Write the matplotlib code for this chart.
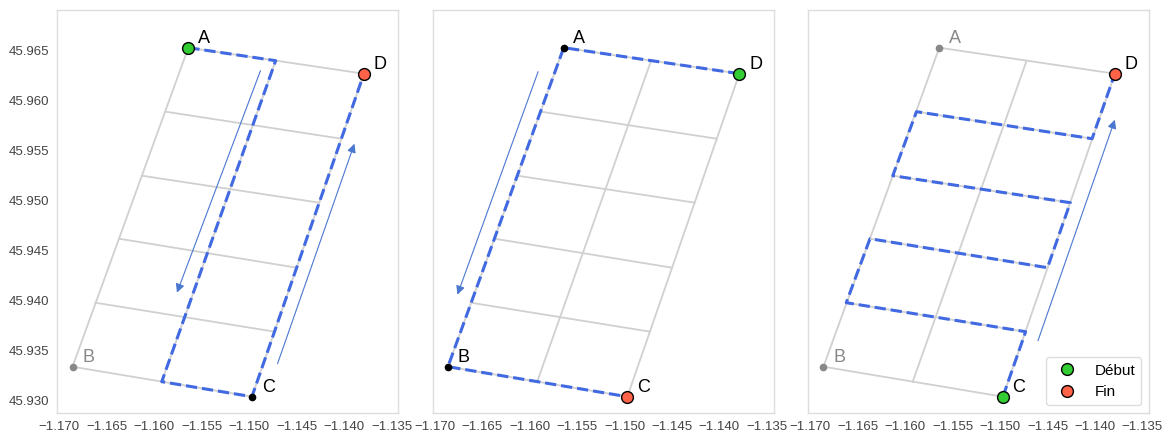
import matplotlib
matplotlib.use("Agg")
import matplotlib.pyplot as plt

plt.rcParams['font.family'] = ['Liberation Sans', 'DejaVu Sans']

# corners of the zone (lon, lat)
A = (-1.1564, 45.9653)
B = (-1.1686, 45.9334)
C = (-1.1497, 45.9304)
D = (-1.1379, 45.9627)

# grid line ends: on side AB and on side DC (top to bottom)
ab_pts = [(-1.1588, 45.9589), (-1.1613, 45.9525), (-1.1637, 45.9462), (-1.1662, 45.9398)]
dc_pts = [(-1.1403, 45.9562), (-1.1426, 45.9498), (-1.1450, 45.9433), (-1.1473, 45.9369)]
mid_ad = (-1.1472, 45.9640)
mid_bc = (-1.1592, 45.9319)

# routes for the three scenarios
route1 = [A, mid_ad, mid_bc, C, D]
route2 = [D, A, B, C]
route3 = [C, dc_pts[3], ab_pts[3], ab_pts[2], dc_pts[2], dc_pts[1],
          ab_pts[1], ab_pts[0], dc_pts[0], D]

# direction arrows (start, end)
arrows1 = [((-1.1488, 45.9630), (-1.1576, 45.9408)),
           ((-1.1470, 45.9337), (-1.1389, 45.9557))]
arrows2 = [((-1.1591, 45.9629), (-1.1676, 45.9406))]
arrows3 = [((-1.1460, 45.9360), (-1.1379, 45.9581))]

# point styles per panel: (start, end, black points, grey points)
panels = [
    dict(route=route1, arrows=arrows1, start='A', end='D', black=['C'], grey=['B']),
    dict(route=route2, arrows=arrows2, start='D', end='C', black=['A', 'B'], grey=[]),
    dict(route=route3, arrows=arrows3, start='C', end='D', black=[], grey=['A', 'B']),
]
corners = {'A': A, 'B': B, 'C': C, 'D': D}

green = '#32CD32'
red = '#FF6347'
blue = '#4169E1'
arrow_col = '#4a78cf'
grid_col = '#d0d0d0'

fig = plt.figure(figsize=(11.63, 4.34), dpi=100)
lefts = [0.0493, 0.3721, 0.6950]

for i, p in enumerate(panels):
    ax = fig.add_axes([lefts[i], 0.0484, 0.2930, 0.9286])

    # grid
    outline = [A, D, C, B, A]
    ax.plot([q[0] for q in outline], [q[1] for q in outline], color=grid_col, lw=1.3, zorder=1)
    for a, d in zip(ab_pts, dc_pts):
        ax.plot([a[0], d[0]], [a[1], d[1]], color=grid_col, lw=1.3, zorder=1)
    ax.plot([mid_ad[0], mid_bc[0]], [mid_ad[1], mid_bc[1]], color=grid_col, lw=1.3, zorder=1)

    # route
    r = p['route']
    ax.plot([q[0] for q in r], [q[1] for q in r], color=blue, lw=2.2, ls='--', zorder=2)

    for s, e in p['arrows']:
        ax.annotate('', xy=e, xytext=s,
                    arrowprops=dict(arrowstyle='-|>', color=arrow_col, lw=0.8,
                                    mutation_scale=13, shrinkA=0, shrinkB=0),
                    zorder=3)

    # points and labels
    for name, xy in corners.items():
        if name == p['start']:
            ax.plot(xy[0], xy[1], 'o', color=green, mec='black', mew=1, ms=8.5,
                    zorder=5, label='Début')
            col = 'black'
        elif name == p['end']:
            ax.plot(xy[0], xy[1], 'o', color=red, mec='black', mew=1, ms=8.5,
                    zorder=5, label='Fin')
            col = 'black'
        elif name in p['black']:
            ax.plot(xy[0], xy[1], 'o', color='black', ms=4.5, zorder=5)
            col = 'black'
        else:
            ax.plot(xy[0], xy[1], 'o', color='#888888', ms=4.5, zorder=5)
            col = '#888888'
        ax.annotate(name, xy=xy, xytext=(7, 3.5), textcoords='offset points',
                    ha='left', va='baseline', fontsize=13, color=col, zorder=6)

    ax.set_xlim(-1.1702, -1.1343)
    ax.set_ylim(45.92877, 45.96907)
    ax.set_xticks([-1.170, -1.165, -1.160, -1.155, -1.150, -1.145, -1.140, -1.135])
    ax.set_yticks([45.930, 45.935, 45.940, 45.945, 45.950, 45.955, 45.960, 45.965])
    ax.ticklabel_format(useOffset=False)
    ax.tick_params(length=0, labelsize=9.5, colors='#444444', pad=6)
    if i > 0:
        ax.set_yticklabels([])
        ax.tick_params(axis='y', left=False, labelleft=False)
    for sp in ax.spines.values():
        sp.set_color('#dddddd')
        sp.set_linewidth(1.0)

    if i == 2:
        handles, labels = ax.get_legend_handles_labels()
        order = [labels.index('Début'), labels.index('Fin')]
        ax.legend([handles[k] for k in order], [labels[k] for k in order],
                  loc='lower right', fontsize=11, frameon=True,
                  edgecolor='#dddddd', framealpha=1)

fig.savefig('out.png', dpi=100)
